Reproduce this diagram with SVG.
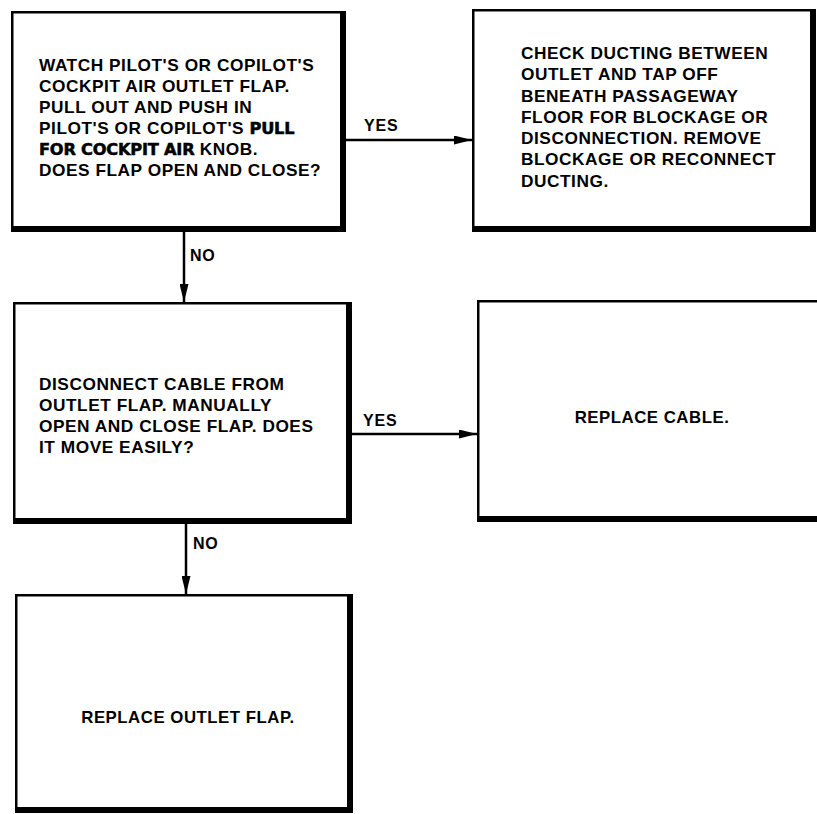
<svg xmlns="http://www.w3.org/2000/svg" width="817" height="814" viewBox="0 0 817 814">
<defs>
<marker id="arrow" markerUnits="userSpaceOnUse" markerWidth="18" markerHeight="9" refX="18" refY="4.5" orient="auto">
<path d="M0,0 L18,4.5 L0,9 Z" fill="#000"/>
</marker>
<style>
.box{fill:#fff;stroke:#000;stroke-width:2.5}
.shadow{fill:none;stroke:#000;stroke-width:6;stroke-linejoin:miter}
.t{font-family:"Liberation Sans",Arial,sans-serif;font-weight:bold;font-size:16px;letter-spacing:0.5px;fill:#000}
.em{font-family:"DejaVu Sans","Liberation Sans",sans-serif;font-weight:bold;font-size:15px;letter-spacing:-0.2px;stroke:#000;stroke-width:0.5}
.lbl{font-family:"Liberation Sans",Arial,sans-serif;font-weight:bold;font-size:16px;letter-spacing:0.8px;fill:#000}
.conn{fill:none;stroke:#000;stroke-width:2.5}
</style>
</defs>
<rect width="817" height="814" fill="#fff"/>

<g id="node-watch">
<rect class="box" x="12.25" y="12.25" width="332.5" height="218.5"/>
<path class="shadow" d="M343,12 V229 H12"/>
<g transform="translate(39,0) scale(1.08,1)">
<text class="t" x="0" y="71">WATCH PILOT'S OR COPILOT'S</text>
<text class="t" x="0" y="92">COCKPIT AIR OUTLET FLAP.</text>
<text class="t" x="0" y="113">PULL OUT AND PUSH IN</text>
<text class="t" x="0" y="134">PILOT'S OR COPILOT'S <tspan class="em">PULL</tspan></text>
<text class="t" x="0" y="155"><tspan class="em">FOR COCKPIT AIR</tspan> KNOB.</text>
<text class="t" x="0" y="176">DOES FLAP OPEN AND CLOSE?</text>
</g>
</g>

<g id="node-check-ducting">
<rect class="box" x="473.25" y="10.25" width="341.5" height="220.5"/>
<path class="shadow" d="M813,10 V229 H473"/>
<g transform="translate(521,0) scale(1.08,1)">
<text class="t" x="0" y="59">CHECK DUCTING BETWEEN</text>
<text class="t" x="0" y="80.3">OUTLET AND TAP OFF</text>
<text class="t" x="0" y="101.6">BENEATH PASSAGEWAY</text>
<text class="t" x="0" y="122.9">FLOOR FOR BLOCKAGE OR</text>
<text class="t" x="0" y="144.2">DISCONNECTION. REMOVE</text>
<text class="t" x="0" y="165.5">BLOCKAGE OR RECONNECT</text>
<text class="t" x="0" y="186.8">DUCTING.</text>
</g>
</g>

<g id="node-disconnect">
<rect class="box" x="14.25" y="303.25" width="336.5" height="219.5"/>
<path class="shadow" d="M349,303 V521 H14"/>
<g transform="translate(39,0) scale(1.08,1)">
<text class="t" x="0" y="390">DISCONNECT CABLE FROM</text>
<text class="t" x="0" y="411">OUTLET FLAP. MANUALLY</text>
<text class="t" x="0" y="432">OPEN AND CLOSE FLAP. DOES</text>
<text class="t" x="0" y="453">IT MOVE EASILY?</text>
</g>
</g>

<g id="node-replace-cable">
<rect class="box" x="478.25" y="301.25" width="345" height="219.5"/>
<path class="shadow" d="M478,519 H820"/>
<g transform="translate(652,0) scale(1.05,1)">
<text class="t" x="0" y="423" text-anchor="middle">REPLACE CABLE.</text>
</g>
</g>

<g id="node-replace-flap">
<rect class="box" x="16.25" y="595.25" width="335.5" height="216.5"/>
<path class="shadow" d="M350,595 V810 H16"/>
<g transform="translate(188,0) scale(1.05,1)">
<text class="t" x="0" y="723" text-anchor="middle">REPLACE OUTLET FLAP.</text>
</g>
</g>

<g id="connectors">
<line class="conn" x1="346" y1="140" x2="472" y2="140" marker-end="url(#arrow)"/>
<text class="lbl" x="364" y="131">YES</text>
<line class="conn" x1="184" y1="232" x2="184" y2="302" marker-end="url(#arrow)"/>
<text class="lbl" x="190" y="261">NO</text>
<line class="conn" x1="352" y1="434" x2="477" y2="434" marker-end="url(#arrow)"/>
<text class="lbl" x="363" y="426">YES</text>
<line class="conn" x1="186" y1="524" x2="186" y2="594" marker-end="url(#arrow)"/>
<text class="lbl" x="193" y="549">NO</text>
</g>
</svg>
